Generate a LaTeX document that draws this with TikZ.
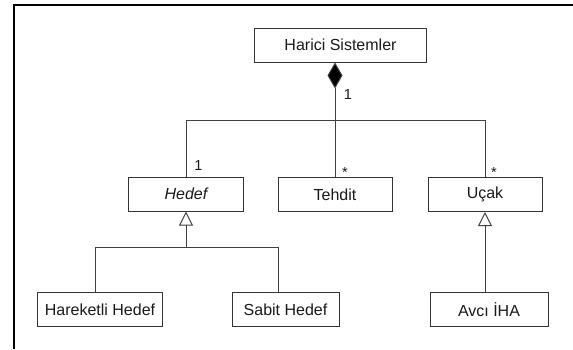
\documentclass[tikz,border=0pt]{standalone}
\usepackage{fontspec}
\setmainfont{Liberation Sans}
\usetikzlibrary{arrows.meta}
\begin{document}
\begin{tikzpicture}[x=1pt,y=-1pt,
  cls/.style={draw=black!80, line width=1pt, minimum height=34pt, inner sep=0pt,
    font=\fontsize{16}{19}\selectfont, text=black!90},
  conn/.style={draw=black!75, line width=1pt},
  mult/.style={font=\fontsize{14.5}{17}\selectfont, inner sep=0pt, text=black!90},
  gen/.style={-{Triangle[open,length=14pt,width=14pt]}},
  framestyle/.style={line width=2.2pt, black, line join=miter}]
\useasboundingbox (0,0) rectangle (573,349);
\draw[framestyle] (573,5) -- (14,5) -- (14,349);

\node[cls, minimum width=172pt] (hs) at (340.5,45) {Harici Sistemler};
\node[cls, minimum width=115pt] (hedef) at (186,194) {\itshape Hedef};
\node[cls, minimum width=114pt] (tehdit) at (335,194.5) {Tehdit};
\node[cls, minimum width=114pt] (ucak) at (485,194.5) {Uçak};
\node[cls, minimum width=125pt] (hh) at (100,309.5) {Hareketli Hedef};
\node[cls, minimum width=107pt] (sh) at (285.5,309.5) {Sabit Hedef};
\node[cls, minimum width=118pt] (avci) at (489,309.5) {Avcı İHA};

% composition
\coordinate (agg) at (hs.south -| tehdit.north);
\draw[conn, {Diamond[fill=black,length=26pt,width=15pt]}-] (agg) -- (tehdit.north);
\path (agg) ++(0,58) coordinate (bus);
\draw[conn] (hedef.north) |- (bus) -| (ucak.north);

% generalization Hedef
\path (hedef.south) ++(0,36) coordinate (gh);
\draw[conn, gen] (gh) -- (hedef.south);
\draw[conn] ([xshift=-5pt]hh.north) |- (gh) -| ([xshift=-7.5pt]sh.north);

% generalization Uçak
\draw[conn, gen] (avci.north -| ucak.south) -- (ucak.south);

% multiplicities
\path (agg) ++(13,32) node[mult] (m1) {1};
\path (hedef.north) ++(12.5,-10.5) node[mult] (m2) {1};
\path (tehdit.north) ++(10,-10) node[mult, anchor=north] (m3) {*};
\path (ucak.north) ++(9,-10) node[mult, anchor=north] (m4) {*};
\end{tikzpicture}
\end{document}
